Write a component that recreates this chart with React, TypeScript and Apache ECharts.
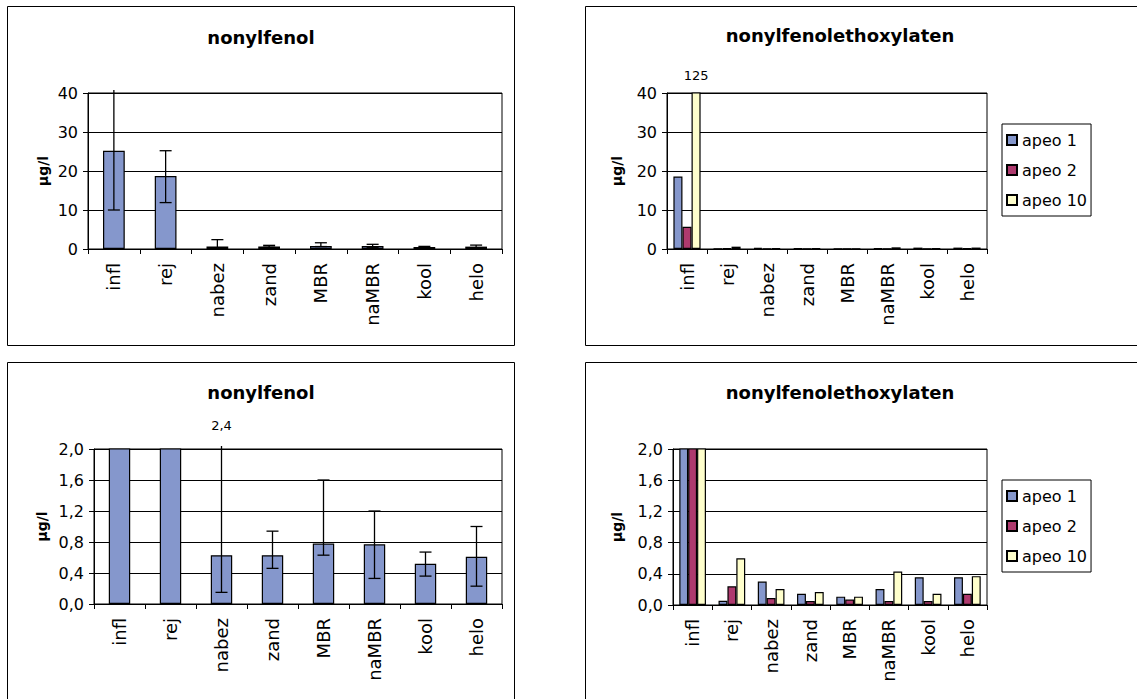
import React, { useEffect, useRef } from "react";
import * as echarts from "echarts";

const categories = ["infl", "rej", "nabez", "zand", "MBR", "naMBR", "kool", "helo"];

// nonylfenol: mean and error-bar range (µg/l)
const npMean = [25.2, 18.7, 0.63, 0.63, 0.78, 0.77, 0.52, 0.61];
const npLow = [10.0, 11.9, 0.15, 0.46, 0.63, 0.33, 0.36, 0.23];
const npHigh = [40.4, 25.2, 2.4, 0.94, 1.6, 1.2, 0.67, 1.0];

// nonylfenolethoxylaten (µg/l)
const seriesNames = ["apeo 1", "apeo 2", "apeo 10"];
const apeo1 = [18.6, 0.055, 0.3, 0.145, 0.107, 0.205, 0.355, 0.355];
const apeo2 = [5.7, 0.24, 0.09, 0.05, 0.07, 0.05, 0.05, 0.145];
const apeo10 = [125, 0.6, 0.205, 0.167, 0.107, 0.43, 0.145, 0.37];

const topTicks = { min: 0, max: 40, interval: 10 };
const bottomTicks = { min: 0, max: 2, interval: 0.4 };

const titleTop = "nonylfenol";
const titleApeo = "nonylfenolethoxylaten";
const yName = "µg/l";

const FONT = "DejaVu Sans";
const BLUE = "#8597cc";
const MAGENTA = "#ae3a6e";
const YELLOW = "#ffffcc";
const COLORS = [BLUE, MAGENTA, YELLOW];
const APEO_GAP = 0.32;

const fmtComma = (v: number) => v.toFixed(1).replace(".", ",");

function errorBarRender(yMax: number) {
  return (params: any, api: any) => {
    const i = api.value(0);
    const lo = api.value(1);
    const hi = api.value(2);
    if (lo >= yMax) return null;
    const clipped = hi > yMax;
    const pLo = api.coord([i, lo]);
    const pHi = api.coord([i, clipped ? yMax : hi]);
    const top = clipped ? pHi[1] - 3 : pHi[1];
    const hw = 6;
    const s = { stroke: "#000", lineWidth: 1.3 };
    const children: any[] = [
      { type: "line", shape: { x1: pLo[0], y1: pLo[1], x2: pLo[0], y2: top }, style: s },
      { type: "line", shape: { x1: pLo[0] - hw, y1: pLo[1], x2: pLo[0] + hw, y2: pLo[1] }, style: s },
    ];
    if (!clipped) {
      children.push({ type: "line", shape: { x1: pLo[0] - hw, y1: top, x2: pLo[0] + hw, y2: top }, style: s });
    }
    return { type: "group", children };
  };
}

function annotRender(yMax: number, texts: string[], barIdx: number, nBars: number, gap: number, dy: number) {
  return (params: any, api: any) => {
    const i = api.value(0);
    const p = api.coord([i, yMax]);
    let dx = 0;
    if (nBars > 1) {
      const catW = api.size([1, 0])[0];
      const barW = (catW * (1 - gap)) / nBars;
      dx = (barIdx - (nBars - 1) / 2) * barW;
    }
    return {
      type: "text",
      x: p[0] + dx,
      y: p[1] - dy,
      style: {
        text: texts[params.dataIndex],
        align: "center",
        verticalAlign: "middle",
        fontSize: 13,
        fontFamily: FONT,
        fill: "#000",
      },
    };
  };
}

export default function App() {
  const ref = useRef<HTMLDivElement>(null);

  useEffect(() => {
    if (!ref.current) return;
    const chart = echarts.init(ref.current, undefined, { renderer: "svg" });

    const grids = [
      { left: 88, top: 93, width: 414, height: 156 },
      { left: 667, top: 93, width: 320, height: 156 },
      { left: 94, top: 449, width: 408, height: 155 },
      { left: 673, top: 449, width: 314, height: 156 },
    ].map((g) => ({ ...g, show: true, borderColor: "#000", borderWidth: 1, backgroundColor: "transparent" }));

    const xAxes = grids.map((_, gi) => ({
      type: "category",
      gridIndex: gi,
      data: categories,
      axisLine: { lineStyle: { color: "#000", width: 1 } },
      axisTick: { show: true, length: 5, lineStyle: { color: "#000" } },
      axisLabel: { rotate: 90, margin: 14, fontSize: 18, fontFamily: FONT, color: "#000" },
      splitLine: { show: false },
    }));

    const nameGaps = [38, 43, 45, 49];
    const yAxes = grids.map((_, gi) => {
      const t = gi < 2 ? topTicks : bottomTicks;
      return {
        type: "value",
        gridIndex: gi,
        min: t.min,
        max: t.max,
        interval: t.interval,
        name: yName,
        nameLocation: "middle",
        nameGap: nameGaps[gi],
        nameTextStyle: { fontSize: 14, fontWeight: "bold", fontFamily: FONT, color: "#000" },
        axisLine: { show: true, lineStyle: { color: "#000", width: 1 } },
        axisTick: { show: true, length: 5, lineStyle: { color: "#000" } },
        axisLabel: {
          margin: 10,
          fontSize: 16,
          fontFamily: FONT,
          color: "#000",
          formatter: gi < 2 ? (v: number) => String(v) : (v: number) => fmtComma(v),
        },
        splitLine: { show: true, lineStyle: { color: "#000", width: 1 } },
      };
    });

    const series: any[] = [];
    // nonylfenol panels (0 and 2)
    [0, 2].forEach((gi) => {
      const yMax = gi < 2 ? topTicks.max : bottomTicks.max;
      series.push({
        type: "bar",
        name: "nonylfenol",
        xAxisIndex: gi,
        yAxisIndex: gi,
        data: npMean,
        barCategoryGap: "58%",
        itemStyle: { color: BLUE, borderColor: "#000", borderWidth: 1.2 },
      });
      series.push({
        type: "custom",
        xAxisIndex: gi,
        yAxisIndex: gi,
        clip: false,
        z: 5,
        encode: { x: 0, y: [1, 2] },
        data: npLow.map((l, i) => [i, l, npHigh[i]]),
        renderItem: errorBarRender(yMax),
      });
    });
    // apeo panels (1 and 3)
    const apeoData = [apeo1, apeo2, apeo10];
    [1, 3].forEach((gi) => {
      apeoData.forEach((d, k) => {
        series.push({
          type: "bar",
          name: seriesNames[k],
          xAxisIndex: gi,
          yAxisIndex: gi,
          data: d,
          barGap: "0%",
          barCategoryGap: `${APEO_GAP * 100}%`,
          itemStyle: { color: COLORS[k], borderColor: "#000", borderWidth: 1.2 },
        });
      });
    });

    // annotations for values beyond axis max
    const over2 = apeo10.map((v, i) => [i, v]).filter((p) => p[1] > topTicks.max);
    series.push({
      type: "custom",
      xAxisIndex: 1,
      yAxisIndex: 1,
      clip: false,
      z: 6,
      data: over2.map((p) => [p[0], topTicks.max]),
      renderItem: annotRender(topTicks.max, over2.map((p) => String(p[1])), 2, 3, APEO_GAP, 18),
    });
    const over3 = npHigh.map((v, i) => [i, v]).filter((p) => p[1] > bottomTicks.max && npLow[p[0]] < bottomTicks.max);
    series.push({
      type: "custom",
      xAxisIndex: 2,
      yAxisIndex: 2,
      clip: false,
      z: 6,
      data: over3.map((p) => [p[0], bottomTicks.max]),
      renderItem: annotRender(bottomTicks.max, over3.map((p) => fmtComma(p[1])), 0, 1, 0, 24),
    });

    const legendBase = {
      orient: "vertical",
      left: 1002,
      backgroundColor: "#fff",
      borderColor: "#000",
      borderWidth: 1,
      borderRadius: 0,
      padding: [8, 4, 8, 4],
      itemGap: 14,
      itemWidth: 10,
      itemHeight: 10,
      icon: "rect",
      selectedMode: false,
      data: seriesNames,
      textStyle: { fontSize: 16, fontFamily: FONT, color: "#000" },
    };

    const titleStyle = (text: string, x: number, y: number) => ({
      type: "text",
      x,
      y,
      style: {
        text,
        align: "center",
        verticalAlign: "middle",
        fontSize: 18,
        fontWeight: "bold",
        fontFamily: FONT,
        fill: "#000",
      },
    });
    const border = (x: number, y: number, w: number, h: number) => ({
      type: "rect",
      z: -1,
      shape: { x: x + 0.5, y: y + 0.5, width: w, height: h },
      style: { fill: "none", stroke: "#000", lineWidth: 1 },
    });

    chart.setOption({
      animation: false,
      backgroundColor: "#fff",
      grid: grids,
      xAxis: xAxes,
      yAxis: yAxes,
      legend: [
        { ...legendBase, top: 124 },
        { ...legendBase, top: 480 },
      ],
      graphic: [
        border(7, 6, 507, 339),
        border(585, 6, 600, 339),
        border(7, 362, 507, 400),
        border(585, 362, 600, 400),
        titleStyle(titleTop, 261, 37),
        titleStyle(titleApeo, 840, 35),
        titleStyle(titleTop, 261, 392),
        titleStyle(titleApeo, 840, 392),
      ],
      series,
    });

    return () => chart.dispose();
  }, []);

  return (
    <div
      ref={ref}
      style={{ position: "fixed", left: 0, top: 0, width: 1137, height: 699, background: "#fff" }}
    />
  );
}
